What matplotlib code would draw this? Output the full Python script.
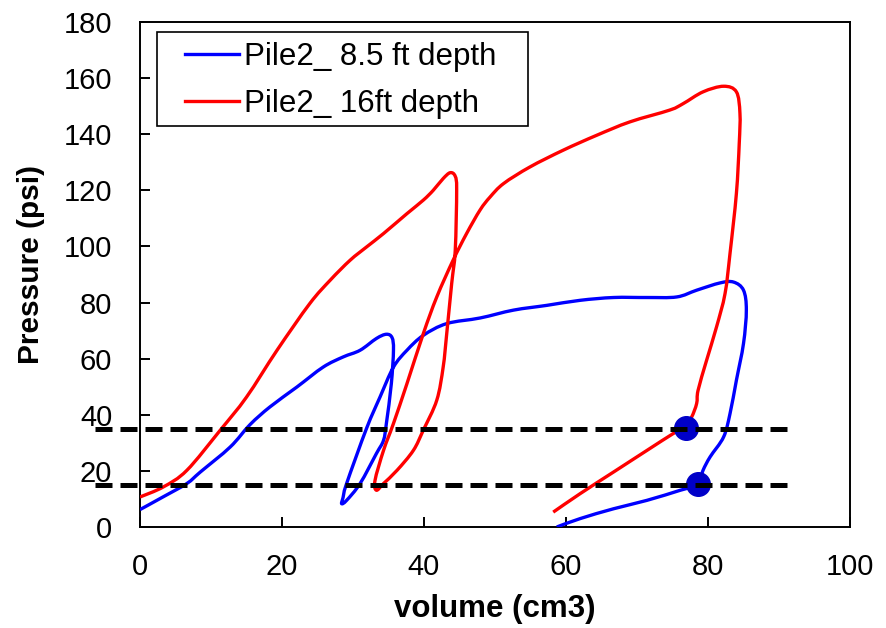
import matplotlib
matplotlib.use("Agg")
import matplotlib.pyplot as plt
import numpy as np
from matplotlib.patches import Rectangle, PathPatch
from matplotlib.path import Path

plt.rcParams['font.family'] = ['Liberation Sans', 'DejaVu Sans']

# ---- data ----
legend_labels = ["Pile2_ 8.5 ft depth", "Pile2_ 16ft depth"]

blue_x = [0, 3.3, 6.6, 8.5, 12.7, 15.5, 18.3, 22.1, 25.8, 28.6, 31, 33.3, 34.7, 35.5, 35.7,
          35.4, 34.7, 34.3, 33.3, 31, 29.1, 28.4, 28.6, 29.1, 31.9, 33.8, 35.7, 37.6, 39.9,
          43.2, 47.9, 52.6, 57.3, 62, 66.7, 71.4, 75.6, 78.4, 81.7, 83.6, 85, 85.4, 85, 84,
          83.1, 82.2, 80.3, 79.3, 78.6, 76.1, 71.4, 66.7, 62, 58.7]
blue_y = [6.2, 10.8, 15.5, 19.6, 28.5, 36.5, 42.8, 49.9, 57, 60.6, 63, 67.2, 68.7, 67.5, 63,
          51.1, 36.9, 30.9, 26.2, 15.5, 9.5, 8.3, 10.5, 15.5, 35.1, 46.3, 57, 63, 68.3,
          72.5, 74.5, 77.3, 79, 80.8, 81.8, 81.8, 82, 84.4, 87, 87.3, 84.4, 77.3, 65.4, 52.3,
          40.4, 32.1, 25, 20.2, 15.2, 13.1, 9.5, 6.5, 3, 0]

red_x = [0, 3.3, 6.6, 11.3, 15, 19.3, 23.9, 26.8, 29.6, 31.9, 34.3, 37.6, 39.9, 41.3, 42.7,
         43.7, 44.4, 44.6, 44.4, 43.9, 43.2, 42.7, 41.8, 39.9, 38.5, 36.2, 34.3, 33.3, 33.1,
         34.3, 35.7, 37.6, 39.9, 41.8, 44.1, 46, 47.9, 49.3, 51.2, 54.9, 59.6, 64.3, 69,
         74.6, 76.5, 79.3, 82.2, 84, 84.5, 84.4, 84, 83.1, 82.4, 81.2, 79.8, 78.6, 78.4,
         77.7, 76.8, 75.1, 71.4, 66.7, 62, 58.2]
red_y = [10.7, 14.3, 20.2, 34.5, 46.3, 63, 79.6, 88, 95.1, 99.8, 104.6, 111.7, 116.5, 120, 124.2,
         126.3, 125, 120, 98.6, 86.8, 68.9, 57, 45.2, 34.5, 27.3, 20.2, 15.5, 13.1, 16.6,
         27.3, 36.9, 51.1, 68.9, 82, 95.1, 104.6, 113, 117.6, 122.4, 128.3, 134.3, 139.6, 144.4,
         148.6, 150.9, 155.1, 157.1, 155.1, 147.4, 136.7, 118.9, 97.5, 83.2, 71.3, 59.4, 48.7, 44,
         39.2, 35.7, 33.3, 27.3, 19.6, 11.9, 5.3]

marker_x = [76.9, 78.6]
marker_y = [35.3, 15.2]

ref_levels = [35, 15]
ref_x = [-6.3, 92.3]

x_ticks = [0, 20, 40, 60, 80, 100]
y_ticks = [0, 20, 40, 60, 80, 100, 120, 140, 160, 180]


def smooth_path(xs, ys, tension=1/6):
    """Smoothed line through the points (Catmull-Rom as cubic Bezier segments)."""
    p = np.column_stack([xs, ys]).astype(float)
    n = len(p)
    verts = [p[0]]
    codes = [Path.MOVETO]
    for i in range(n - 1):
        p0 = p[i - 1] if i > 0 else p[i]
        p1 = p[i]
        p2 = p[i + 1]
        p3 = p[i + 2] if i + 2 < n else p[i + 1]
        c1 = p1 + (p2 - p0) * tension
        c2 = p2 - (p3 - p1) * tension
        verts += [c1, c2, p2]
        codes += [Path.CURVE4] * 3
    return Path(verts, codes)


# ---- figure ----
fig = plt.figure(figsize=(8.87, 6.28), dpi=100)
ax = fig.add_axes([140/887, 101/628, 710/887, 505/628])

for xs, ys, c in [(blue_x, blue_y, '#0000FF'), (red_x, red_y, '#FF0000')]:
    ax.add_patch(PathPatch(smooth_path(xs, ys), facecolor='none', edgecolor=c,
                           lw=2.4, zorder=3, joinstyle='round', capstyle='butt'))
ax.plot(marker_x, marker_y, 'o', color='#0000C8', markersize=17, zorder=4)
for lev in ref_levels:
    ax.plot(ref_x, [lev, lev], color='black', lw=3.6, linestyle=(0, (3.4, 1.6)),
            zorder=5, clip_on=False, dash_capstyle='butt')

ax.set_xlim(0, 100)
ax.set_ylim(0, 180)
ax.set_xticks(x_ticks)
ax.set_yticks(y_ticks)
ax.tick_params(direction='in', length=7, width=1.4, labelsize=21, pad=19,
               top=False, right=False)
ax.tick_params(axis='y', pad=20)
for s in ax.spines.values():
    s.set_linewidth(1.4)

ax.set_xlabel("volume (cm3)", fontsize=22.5, fontweight='bold', labelpad=9)
ax.set_ylabel("Pressure (psi)", fontsize=21.5, fontweight='bold')
ax.yaxis.set_label_coords(-0.134, 0.519)

# ---- legend (manual box) ----
ax.add_patch(Rectangle((0.0244, 0.794), 0.5221, 0.1868, transform=ax.transAxes,
                       facecolor='white', edgecolor='black', lw=1.2, zorder=6))
colors = ['#0000FF', '#FF0000']
row_y = [0.9366, 0.8442]
base_y = [0.9149, 0.8224]
for lab, c, ry, by in zip(legend_labels, colors, row_y, base_y):
    ax.plot([0.0634, 0.1394], [ry, ry], color=c, lw=2.4, transform=ax.transAxes,
            zorder=7, clip_on=False)
    ax.text(0.1465, by, lab, transform=ax.transAxes, fontsize=22.5, va='baseline',
            ha='left', zorder=7)

fig.savefig("out.png", dpi=100)
